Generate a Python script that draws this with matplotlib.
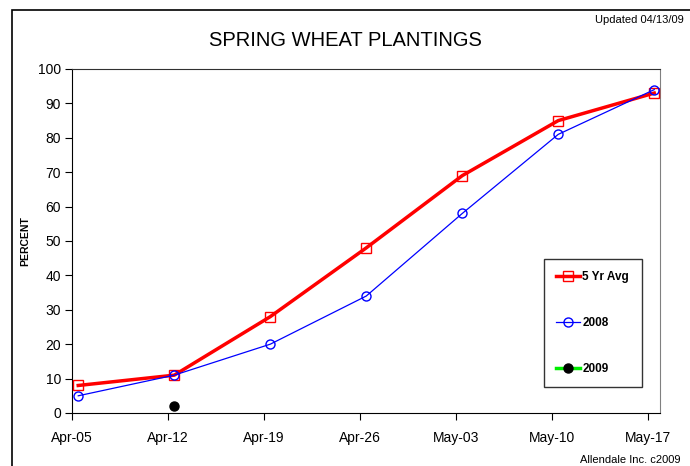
import matplotlib.pyplot as plt
from matplotlib.patches import Rectangle

weeks = ["Apr-05", "Apr-12", "Apr-19", "Apr-26", "May-03", "May-10", "May-17"]
avg5 = [8, 11, 28, 48, 69, 85, 93]
y2008 = [5, 11, 20, 34, 58, 81, 94]
y2009 = [2]

plt.rcParams['font.family'] = ['Liberation Sans', 'DejaVu Sans']

fig = plt.figure(figsize=(6.9, 4.66), dpi=100)
ax = fig.add_axes([72/690, 1-413/466, 588/690, 344/466])

# outer frame
fig.patches.append(Rectangle((12/690, -0.1), 1.0, 1-10/466+0.1, transform=fig.transFigure,
                             fill=False, edgecolor='black', lw=1.2))

off = 0.065
x = [i + off for i in range(len(weeks))]
ax.plot(x, avg5, color='red', lw=2.5, marker='s', ms=6.5, mfc='none', mec='red', mew=1,
        label='5 Yr Avg', zorder=3)
ax.plot(x, y2008, color='blue', lw=0.9, marker='o', ms=6.5, mfc='none', mec='blue', mew=1,
        label='2008', zorder=4)
ax.plot(x[1:1+len(y2009)], y2009, color='#00ee00', lw=2.5, marker='o', ms=6.5, mfc='black', mec='black',
        label='2009', zorder=5)

ax.set_xlim(0, 6.125)
ax.set_ylim(0, 100)
ax.set_xticks(range(len(weeks)))
ax.set_xticklabels(weeks, fontsize=10)
ax.set_yticks(range(0, 101, 10))
ax.tick_params(axis='y', labelsize=10, direction='out', length=5, pad=3)
ax.tick_params(axis='x', direction='out', length=5, pad=8)
ax.spines['top'].set_color('#303030')
ax.spines['right'].set_color('#808080')
ax.set_ylabel('PERCENT', fontsize=7.5, fontweight='bold')
ax.yaxis.set_label_coords((30-72)/588, 0.5)

leg = ax.legend(loc='upper left', bbox_to_anchor=((544-72)/588, (413-259)/344), frameon=True,
                fancybox=False, edgecolor='black', labelspacing=2.85, borderpad=1.05,
                borderaxespad=0, handlelength=2.0, handletextpad=0.2,
                prop={'size': 8.5, 'weight': 'bold'})
leg.get_frame().set_linewidth(1)

fig.text(0.5, 1-40/466, 'SPRING WHEAT PLANTINGS', ha='center', va='center', fontsize=14.5)
fig.text(684/690, 1-20/466, 'Updated 04/13/09', ha='right', va='center', fontsize=8)
fig.text(680/690, 1-460/466, 'Allendale Inc. c2009', ha='right', va='center', fontsize=8)

fig.savefig('out.png', dpi=100)
